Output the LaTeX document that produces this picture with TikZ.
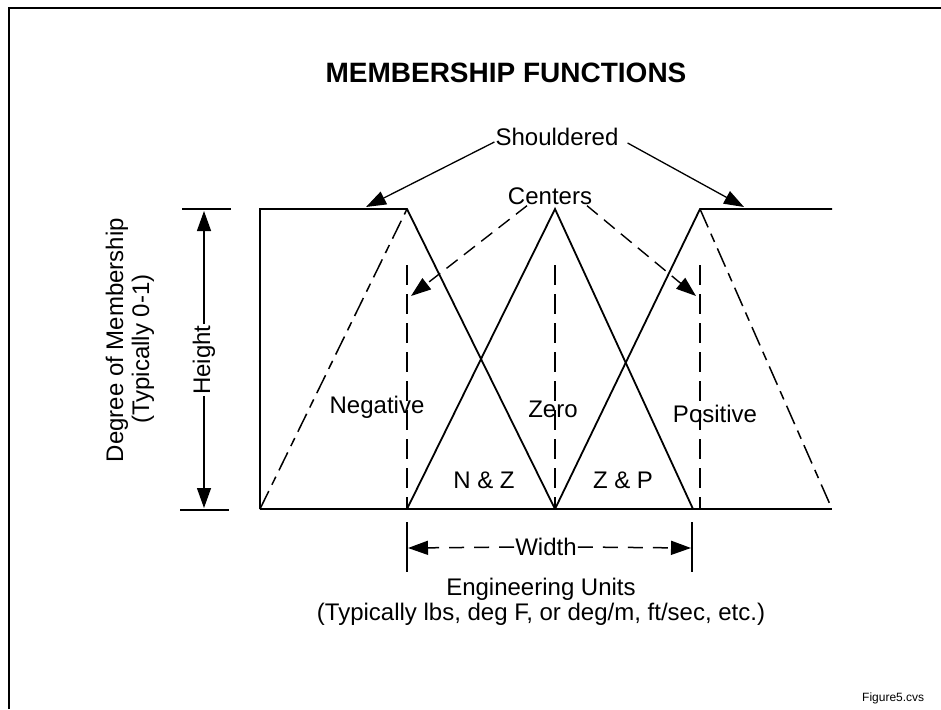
\documentclass[tikz,border=0pt]{standalone}
\usepackage{fontspec}
\setmainfont{Liberation Sans}
\usetikzlibrary{arrows.meta}
\begin{document}
\begin{tikzpicture}[x=1pt,y=-1pt,
  lbl/.style={font=\fontsize{24}{28}\selectfont, inner sep=1pt},
  solidln/.style={line width=1.8pt},
  thinln/.style={line width=1.3pt},
  longdash/.style={line width=1.5pt, dash pattern=on 20pt off 7pt on 9pt off 7pt},
  vdash/.style={line width=1.5pt, dash pattern=on 20pt off 9pt},
  cdash/.style={line width=1.4pt, dash pattern=on 14pt off 8pt},
  wdash/.style={line width=1.5pt, dash pattern=on 15pt off 10pt},
  >={Triangle[length=20pt,width=14pt]}
]
\useasboundingbox (0,0) rectangle (941,709);
% frame
\draw[line width=2pt] (9,709) -- (9,8) -- (941,8);

% key points
\coordinate (a0) at (260,209);
\coordinate (a1) at (407,209);
\coordinate (zc) at (555,209);
\coordinate (pc) at (700,209);
\coordinate (a4) at (832,209);
\coordinate (b0) at (260,509);
\coordinate (b1) at (407,509);
\coordinate (b2) at (555,509);
\coordinate (b3) at (693,509);
\coordinate (b4) at (832,509);
\coordinate (v1) at (407,265);
\coordinate (v2) at (555,265);
\coordinate (v3) at (700,265);
\coordinate (v3b) at (700,509);

% membership functions
\draw[solidln] (b0) -- (a0) -- (a1) -- (b2);
\draw[solidln] (b0) -- (b4);
\draw[solidln] (b1) -- (zc) -- (b3);
\draw[solidln] (b2) -- (pc) -- (a4);
\draw[longdash] (b0) -- (a1);
\draw[longdash] (pc) -- (b4);
\draw[vdash] (v1) -- (b1);
\draw[vdash] (v2) -- (b2);
\draw[vdash] (v3) -- (v3b);

% texts
\node[font=\bfseries\fontsize{28}{32}\selectfont] (title) at (506,73) {MEMBERSHIP FUNCTIONS};
\node[lbl] (sh) at (557,137) {Shouldered};
\node[lbl] (ce) at (550,196) {Centers};
\node[lbl] (neg) at (377,407) {Negative};
\node[lbl] (zero) at (553,409) {Zero};
\node[lbl] (pos) at (715,414) {Positive};
\node[lbl] (nz) at (484,480) {N \& Z};
\node[lbl] (zp) at (623,480) {Z \& P};
\node[lbl] (wd) at (546,547) {Width};
\node[lbl] (eu) at (541,589) {Engineering Units};
\node[lbl] (ty) at (541,614) {(Typically lbs, deg F, or deg/m, ft/sec, etc.)};
\node[lbl,rotate=90] (dm) at (117,340) {Degree of Membership};
\node[lbl,rotate=90] (t01) at (143,349) {(Typically 0-1)};
\node[lbl,rotate=90] (ht) at (204,360) {Height};
\node[font=\fontsize{12}{14}\selectfont, anchor=west, inner sep=0pt] (fig) at (862,698) {Figure5.cvs};

% shouldered arrows
\coordinate (shL) at (366,207);
\coordinate (shR) at (744,207);
\draw[thinln,->] ([yshift=-5pt]sh.west) -- (shL);
\draw[thinln,->] ([xshift=8pt,yshift=-6pt]sh.east) -- (shR);

% centers arrows
\coordinate (tipL) at (411,296);
\coordinate (tipR) at (696,296);
\draw[cdash,->] ([xshift=-23pt]ce.south) -- (tipL);
\draw[cdash,->] ([xshift=37pt]ce.south) -- (tipR);

% height dimension
\coordinate (h1a) at (182,209);
\coordinate (h1b) at (231,209);
\coordinate (h2a) at (180,510);
\coordinate (h2b) at (229,510);
\coordinate (htop) at (204,211);
\coordinate (hbot) at (204,508);
\draw[solidln] (h1a) -- (h1b);
\draw[solidln] (h2a) -- (h2b);
\draw[thinln,->] (ht.east) -- (htop);
\draw[thinln,->] (ht.west) -- (hbot);

% width dimension
\coordinate (w1a) at (407,522);
\coordinate (w1b) at (407,572);
\coordinate (w2a) at (692,522);
\coordinate (w2b) at (692,572);
\coordinate (wl) at (408,548);
\coordinate (wr) at (691,548);
\draw[solidln] (w1a) -- (w1b);
\draw[solidln] (w2a) -- (w2b);
\draw[wdash,->] (wd.west) -- (wl);
\draw[wdash,->] (wd.east) -- (wr);
\end{tikzpicture}
\end{document}
